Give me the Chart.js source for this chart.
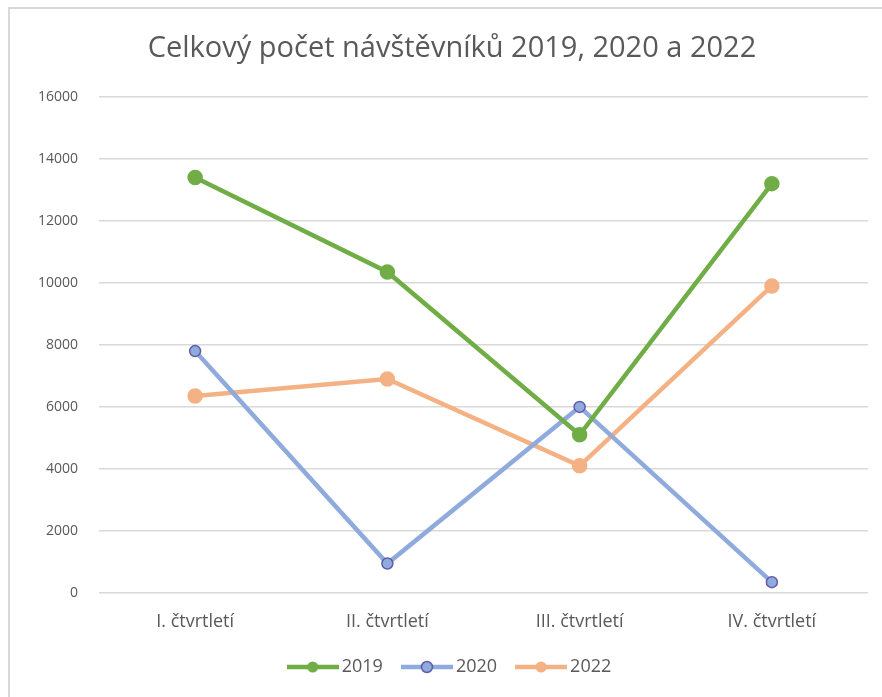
<!DOCTYPE html>
<html>
<head>
<meta charset="utf-8">
<script src="https://cdn.jsdelivr.net/npm/chart.js@4.4.1/dist/chart.umd.min.js"></script>
<style>
  body { margin: 0; background: #fff; }
  #frame { position: absolute; left: 8px; top: 7px; width: 874px; height: 690px;
           border-left: 2px solid #d9d9d9; border-top: 2px solid #d9d9d9; }
  #myChart { position: absolute; left: 0; top: 0; }
</style>
</head>
<body>
<div id="frame"></div>
<canvas id="myChart" width="882" height="697"></canvas>
<script>
var labels = ['I. čtvrtletí', 'II. čtvrtletí', 'III. čtvrtletí', 'IV. čtvrtletí'];
var data2019 = [13400, 10350, 5100, 13200];
var data2020 = [7800, 950, 6000, 350];
var data2022 = [6350, 6900, 4100, 9900];

var green = 'rgb(112, 173, 71)';
var blue = 'rgb(143, 170, 220)';
var blueEdge = 'rgb(100, 90, 170)';
var orange = 'rgb(244, 177, 131)';

// line+dot pictures for the legend (wider than the legend box, so they reach out to both sides)
function legendIcon(color, fill, edge) {
  var c = document.createElement('canvas');
  c.width = 52; c.height = 14;
  var g = c.getContext('2d');
  g.strokeStyle = color;
  g.lineWidth = 4.5;
  g.beginPath(); g.moveTo(0, 7); g.lineTo(52, 7); g.stroke();
  g.beginPath(); g.arc(26, 7, 5.5, 0, Math.PI * 2);
  g.fillStyle = fill; g.fill();
  if (edge) { g.lineWidth = 1.5; g.strokeStyle = edge; g.stroke(); }
  return c;
}
var icons = [legendIcon(green, green), legendIcon(blue, blue, blueEdge), legendIcon(orange, orange)];

var font = '"Open Sans", sans-serif';
var ctx = document.getElementById('myChart').getContext('2d');
var myChart = new Chart(ctx, {
    type: 'line',
    data: {
        labels: labels,
        datasets: [{
          label: '2019',
          data: data2019,
          borderColor: green,
          backgroundColor: green,
          pointBackgroundColor: green,
          pointBorderColor: green,
          borderWidth: 4.5,
          pointRadius: 5.5
        }, {
          label: '2020',
          data: data2020,
          borderColor: blue,
          backgroundColor: blue,
          pointBackgroundColor: blue,
          pointBorderColor: blueEdge,
          pointBorderWidth: 1.5,
          borderWidth: 4.5,
          pointRadius: 5.5
        }, {
          label: '2022',
          data: data2022,
          borderColor: orange,
          backgroundColor: orange,
          pointBackgroundColor: orange,
          pointBorderColor: orange,
          borderWidth: 4.5,
          pointRadius: 5.5
        }]
    },
    options: {
        responsive: false,
        animation: false,
        layout: { padding: { top: 0, right: 14, bottom: 11, left: 36 } },
        plugins: {
          title: {
            display: true,
            text: 'Celkový počet návštěvníků 2019, 2020 a 2022',
            color: '#595959',
            font: { family: font, size: 29, weight: 'normal' },
            padding: { top: 31, bottom: 31 }
          },
          legend: {
            position: 'bottom',
            labels: {
              usePointStyle: true,
              pointStyleWidth: 40,
              color: '#595959',
              font: { family: font, size: 18 },
              padding: 24,
              generateLabels: function (chart) {
                var items = Chart.defaults.plugins.legend.labels.generateLabels(chart);
                items.forEach(function (it, i) { it.pointStyle = icons[i]; });
                return items;
              }
            }
          },
          tooltip: { enabled: false }
        },
        scales: {
          x: {
            offset: true,
            afterFit: function (scale) { scale.height = 41; },
            grid: { display: false, drawTicks: false },
            border: { display: false },
            ticks: { color: '#595959', font: { family: font, size: 18 }, padding: 18 }
          },
          y: {
            min: 0,
            max: 16000,
            afterFit: function (scale) { scale.width = 63; },
            grid: { color: '#d9d9d9', lineWidth: 1.5, drawTicks: false },
            border: { display: false },
            ticks: {
              stepSize: 2000,
              color: '#595959',
              font: { family: font, size: 14 },
              padding: 21,
              callback: function (v) { return String(v); }
            }
          }
        }
    }
});
</script>
</body>
</html>
